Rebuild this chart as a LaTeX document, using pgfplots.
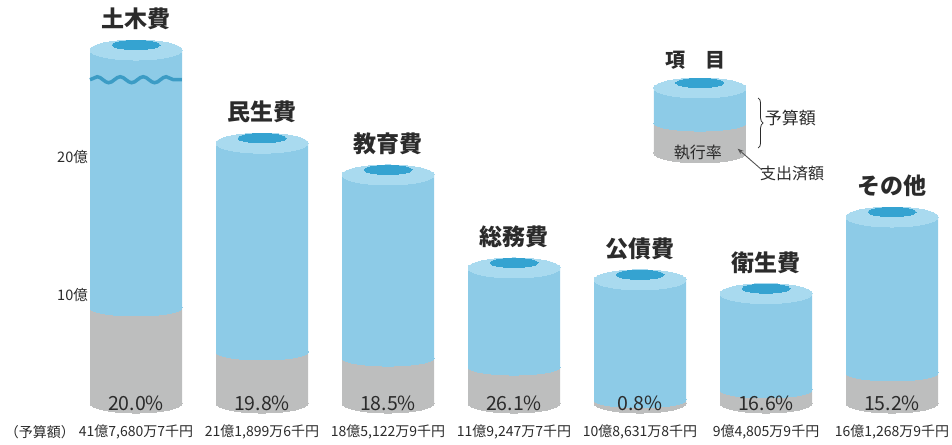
\documentclass[border=0pt]{standalone}
\usepackage{fontspec}
\setmainfont{Noto Sans CJK JP}
\newfontfamily\jp{Noto Sans CJK JP}
\usepackage{pgfplots}
\pgfplotsset{compat=1.18}
\usepackage{pgfplotstable}
\usetikzlibrary{decorations.pathmorphing,decorations.pathreplacing,arrows.meta}

\definecolor{bluebody}{HTML}{8DCBE7}
\definecolor{blueface}{HTML}{A9DAEF}
\definecolor{bluehole}{HTML}{35A3D1}
\definecolor{graybody}{HTML}{BDBEBE}
\definecolor{wave}{HTML}{3C9CC5}
\definecolor{txt}{HTML}{2B2B2B}

% x: position of the cylinder, base: bottom, gray: top of the spent part, top: top face
\pgfplotstableread{
x     base  gray  top
0     2.17  9.06  27.75
1     2.17  5.87  21.0
2     2.17  5.43  18.7
3     2.17  4.78  11.96
4     2.17  2.40  11.1
5     2.17  3.12  10.1
6     2.17  4.35  15.65
4.476 20.29 22.46 25.0
}\cyl

\pgfplotsset{
  cylaxis/.style={
    scale only axis, width=952pt, height=444pt,
    xmin=-1.0794, xmax=6.4762, ymin=-0.797, ymax=31.377,
    axis line style={draw=none}, tick style={draw=none},
    xtick=\empty, clip=false,
  },
}
\tikzset{
  catname/.style={font=\jp\bfseries\fontsize{23}{23}\selectfont, text=txt, inner sep=0pt, yshift=31pt},
  pct/.style={font=\jp\fontsize{19.5}{19.5}\selectfont, text=txt, inner sep=0pt},
  amt/.style={font=\jp\fontsize{14}{14}\selectfont, text=txt, inner sep=0pt},
  leg/.style={font=\jp\fontsize{16}{16}\selectfont, text=txt, inner sep=0pt},
}

\begin{document}
\begin{tikzpicture}
\begin{axis}[cylaxis, ybar stacked, bar width=92pt,
    ytick={10,20}, yticklabels={10億,20億},
    yticklabel style={font=\jp\fontsize{14.5}{14.5}\selectfont, text=txt, anchor=east, inner sep=0pt, xshift=88pt}]
  \addplot[draw=none, fill=none] table[x=x, y=base] \cyl;
  \addplot[draw=none, fill=graybody] table[x=x, y expr=\thisrow{gray}-\thisrow{base}] \cyl;
  \addplot[draw=none, fill=bluebody] table[x=x, y expr=\thisrow{top}-\thisrow{gray}] \cyl;
\end{axis}

\begin{axis}[cylaxis, ytick=\empty]
  % bottom caps, front edge of the spent part, top faces, holes
  \addplot[only marks, color=graybody, mark=*, mark size=46pt, mark options={fill=graybody, line width=0pt, yscale=0.217}] table[x=x, y=base] \cyl;
  \addplot[only marks, color=bluebody, mark=*, mark size=46pt, mark options={fill=bluebody, line width=0pt, yscale=0.174}] table[x=x, y=gray] \cyl;
  \addplot[only marks, color=blueface, mark=*, mark size=46pt, mark options={fill=blueface, line width=0pt, yscale=0.217}] table[x=x, y=top] \cyl;
  \addplot[only marks, color=bluehole, mark=*, mark size=24pt, mark options={fill=bluehole, line width=0pt, yshift=5pt, yscale=0.19}] table[x=x, y=top] \cyl;
\end{axis}

\begin{axis}[cylaxis, ytick=\empty]
  % break mark on the first cylinder
  \draw[wave, line width=3.5pt, decorate, decoration={snake, amplitude=3pt, segment length=23pt}]
    (axis cs:-0.365,25.6) -- (axis cs:0.365,25.6);

  \node[catname] at (axis cs:0,27.75) {土木費};
  \node[catname] at (axis cs:1,21.0) {民生費};
  \node[catname] at (axis cs:2,18.7) {教育費};
  \node[catname] at (axis cs:3,11.96) {総務費};
  \node[catname] at (axis cs:4,11.1) {公債費};
  \node[catname] at (axis cs:5,10.1) {衛生費};
  \node[catname] at (axis cs:6,15.65) {その他};

  \node[pct] at (axis cs:0,2.17) {20.0\%};
  \node[pct] at (axis cs:1,2.17) {19.8\%};
  \node[pct] at (axis cs:2,2.17) {18.5\%};
  \node[pct] at (axis cs:3,2.17) {26.1\%};
  \node[pct] at (axis cs:4,2.17) {0.8\%};
  \node[pct] at (axis cs:5,2.17) {16.6\%};
  \node[pct] at (axis cs:6,2.17) {15.2\%};

  \node[amt] at (axis cs:-0.762,0.07) {（予算額）};
  \node[amt] at (axis cs:0,0.07) {41億7,680万7千円};
  \node[amt] at (axis cs:1,0.07) {21億1,899万6千円};
  \node[amt] at (axis cs:2,0.07) {18億5,122万9千円};
  \node[amt] at (axis cs:3,0.07) {11億9,247万7千円};
  \node[amt] at (axis cs:4,0.07) {10億8,631万8千円};
  \node[amt] at (axis cs:5,0.07) {9億4,805万9千円};
  \node[amt] at (axis cs:6,0.07) {16億1,268万9千円};

  % key
  \node[font=\jp\bfseries\fontsize{20}{20}\selectfont, text=txt, inner sep=0pt] at (axis cs:4.44,27.03) {項\hspace{1em}目};
  \node[leg] at (axis cs:4.46,20.29) {執行率};
  \draw[txt, line width=0.8pt, decorate, decoration={brace, amplitude=5pt}]
    (axis cs:4.937,24.28) -- (axis cs:4.937,20.65);
  \node[leg, anchor=west, font=\jp\fontsize{17}{17}\selectfont] at (axis cs:4.99,22.83) {予算額};
  \draw[txt!80, line width=0.9pt, -{Stealth[length=6pt]}] (axis cs:4.968,19.06) -- (axis cs:4.775,20.6);
  \node[leg, anchor=west] at (axis cs:4.952,18.84) {支出済額};
\end{axis}
\end{tikzpicture}
\end{document}
